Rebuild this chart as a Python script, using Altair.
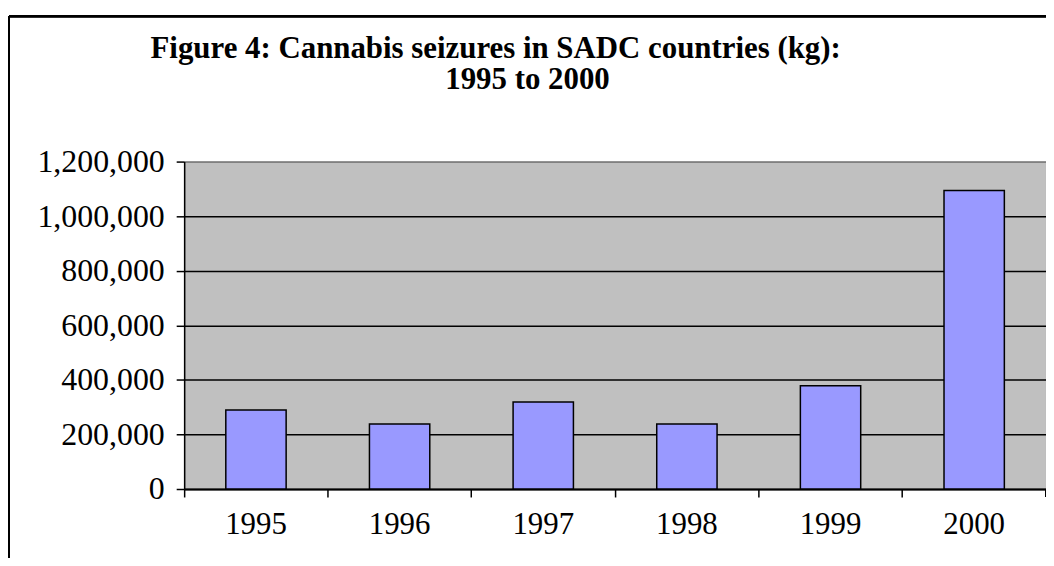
import altair as alt
import pandas as pd

years = ["1995", "1996", "1997", "1998", "1999", "2000"]
seizures = [290000, 238000, 319000, 238000, 378000, 1094000]
y_ticks = [0, 200000, 400000, 600000, 800000, 1000000, 1200000]
title_line1 = "Figure 4: Cannabis seizures in SADC countries (kg):"
title_line2 = "1995 to 2000"

df = pd.DataFrame({"year": years, "kg": seizures})

W, H = 866, 329
FONT = "'Times New Roman', 'Liberation Serif', serif"

base = alt.Chart(df)

bars = base.mark_bar(
    fill="#9999ff", stroke="black", strokeWidth=1.5,
    width=alt.RelativeBandSize(0.42)
).encode(
    x=alt.X("year:N", sort=years, title=None,
            scale=alt.Scale(paddingInner=0, paddingOuter=0),
            axis=alt.Axis(bandPosition=0, labelAngle=0,
                          tickSize=8, tickColor="black", tickWidth=1.5,
                          domainColor="black", domainWidth=2,
                          labelFont=FONT, labelFontSize=31, labelColor="black",
                          labelPadding=13, grid=False)),
    y=alt.Y("kg:Q", title=None,
            scale=alt.Scale(domain=[0, 1200000], nice=False),
            axis=alt.Axis(values=y_ticks, format=",d",
                          tickSize=8, tickColor="black", tickWidth=1.5,
                          domainColor="black", domainWidth=1.5,
                          labelFont=FONT, labelFontSize=32, labelColor="black",
                          labelPadding=12,
                          grid=True, gridWidth=1.6,
                          gridColor=alt.condition("datum.value >= 1200000",
                                                  alt.value("#808080"),
                                                  alt.value("black")))),
)

end_tick = base.mark_rule(color="black", strokeWidth=1.5).encode(
    x=alt.value(W), y=alt.value(H), y2=alt.value(H + 8)
)

t1 = alt.Chart(pd.DataFrame({"t": [title_line1]})).mark_text(
    font=FONT, fontSize=31, fontWeight="bold", color="black",
    align="center", baseline="alphabetic"
).encode(text="t:N", x=alt.value(313), y=alt.value(-104))

t2 = alt.Chart(pd.DataFrame({"t": [title_line2]})).mark_text(
    font=FONT, fontSize=31, fontWeight="bold", color="black",
    align="center", baseline="alphabetic"
).encode(text="t:N", x=alt.value(345), y=alt.value(-73))

frame_left = base.mark_rule(color="black", strokeWidth=2).encode(
    x=alt.value(-176), y=alt.value(-146), y2=alt.value(H + 80)
)
frame_top = base.mark_rule(color="black", strokeWidth=2).encode(
    x=alt.value(-176), x2=alt.value(W + 10), y=alt.value(-146)
)

chart = alt.layer(bars, end_tick, t1, t2, frame_left, frame_top).properties(
    width=W, height=H,
    autosize=alt.AutoSizeParams(type="none"),
    padding={"left": 177, "top": 153, "right": 0, "bottom": 68},
).configure(
    background="white",
    view=alt.ViewConfig(fill="#c0c0c0", stroke="#808080", strokeWidth=1),
)

chart.save("out.html", embed_options={"renderer": "svg", "actions": False})
